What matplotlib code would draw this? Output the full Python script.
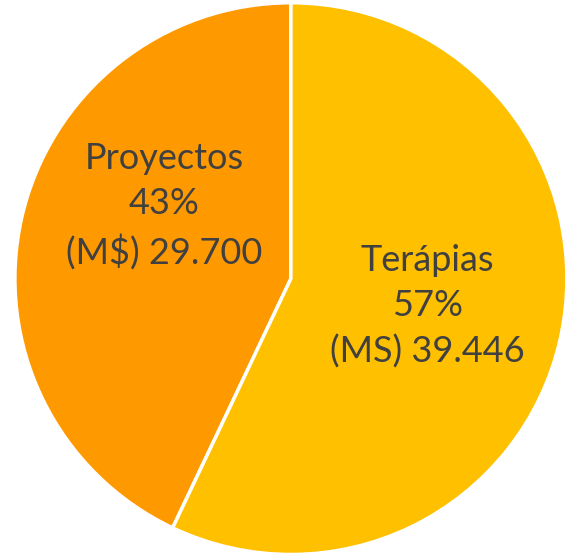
import matplotlib
matplotlib.use("Agg")
import matplotlib.pyplot as plt

categories = ["Proyectos", "Terápias"]
values = [29700, 39446]
percent_labels = ["43%", "57%"]
amount_labels = [r"(M\$) 29.700", "(MS) 39.446"]
colors = ["#FF9900", "#FFC000"]

plt.rcParams['font.family'] = ['Lato', 'DejaVu Sans']

fig = plt.figure(figsize=(5.76, 5.6), dpi=100)
ax = fig.add_axes([0, 0, 1, 1])
ax.pie(values, colors=colors, startangle=90, counterclock=True, radius=1.0,
       wedgeprops=dict(edgecolor="white", linewidth=2.5))
ax.set_xlim(-1.054, 1.033)
ax.set_ylim(-1.02, 1.01)
ax.set_aspect("auto")
ax.axis("off")

label_pos = [(-0.46, 0.265), (0.495, -0.10)]
for (x, y), c, p, a in zip(label_pos, categories, percent_labels, amount_labels):
    ax.text(x, y, f"{c}\n{p}\n{a}", ha="center", va="center", fontsize=26,
            color="#404040", linespacing=1.45)

fig.savefig("out.png", dpi=100)
